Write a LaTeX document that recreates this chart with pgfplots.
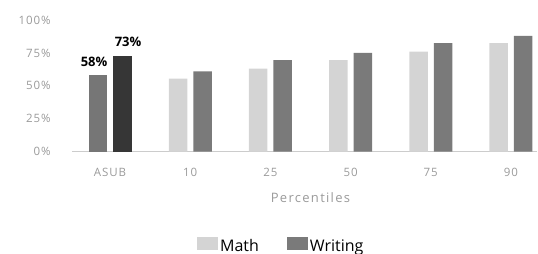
\documentclass[border=0pt]{standalone}
\usepackage{pgfplots}
\pgfplotsset{compat=1.18}
\usepackage{fontspec}
\setmainfont{Open Sans}
\newfontfamily\tickfont[LetterSpace=8]{Open Sans}
\newfontfamily\labfont[LetterSpace=10]{Open Sans}
\definecolor{mathc}{HTML}{D4D4D4}
\definecolor{writc}{HTML}{7A7A7A}
\definecolor{asubm}{HTML}{767676}
\definecolor{asubw}{HTML}{363636}
\definecolor{tickc}{HTML}{9A9A9A}
\begin{document}
\begin{tikzpicture}
\useasboundingbox (-72pt,-102.3pt) rectangle (466pt,151.7pt);
\begin{axis}[
  at={(0,0)}, anchor=south west,
  scale only axis,
  width=465pt, height=131.7pt,
  xmin=-0.475, xmax=5.325,
  ymin=0, ymax=100,
  axis x line*=bottom,
  axis y line*=left,
  y axis line style={draw=none},
  x axis line style={draw=tickc!50, line width=0.6pt},
  ytick={0,25,50,75,100},
  yticklabels={0\%,25\%,50\%,75\%,100\%},
  xtick={0,1,2,3,4,5},
  xticklabels={ASUB,10,25,50,75,90},
  major tick length=0pt,
  tick style={draw=none},
  ticklabel style={font=\tickfont\fontsize{11.5}{13}\selectfont, text=tickc},
  yticklabel style={anchor=east, xshift=-18pt},
  xticklabel style={anchor=north, yshift=-13pt},
  xlabel={Percentiles},
  xlabel style={font=\labfont\fontsize{13}{15}\selectfont, text=tickc, at={(axis description cs:0.5,0)}, anchor=center, xshift=6pt, yshift=-46pt},
  clip=false,
  legend style={at={(0.45,-0.715)}, anchor=center, draw=none, legend columns=2,
    font=\fontsize{16}{18}\selectfont, inner sep=0pt,
    /tikz/every even column/.append style={column sep=26pt}},
  legend image code/.code={\fill[#1] (-2pt,-4pt) rectangle (19pt,9pt);},
]
% ASUB bars
\addplot[ybar, bar width=18.5pt, bar shift=-12.25pt, fill=asubm, draw=none,
  nodes near coords={\textbf{58\%}}, every node near coord/.append style={font=\fontsize{13}{15}\selectfont, text=black, xshift=-16pt, yshift=5pt}, forget plot]
  coordinates {(0,58)};
\addplot[ybar, bar width=18.5pt, bar shift=12.25pt, fill=asubw, draw=none,
  nodes near coords={\textbf{73\%}}, every node near coord/.append style={font=\fontsize{13}{15}\selectfont, text=black, xshift=18pt, yshift=5pt}, forget plot]
  coordinates {(0,73)};
% Percentile bars
\addplot[ybar, bar width=18.5pt, bar shift=-12.25pt, fill=mathc, draw=none]
  coordinates {(1,55.5) (2,63) (3,69.5) (4,76) (5,82.5)};
\addplot[ybar, bar width=18.5pt, bar shift=12.25pt, fill=writc, draw=none]
  coordinates {(1,61) (2,69.5) (3,75) (4,82.5) (5,88)};
\legend{Math,Writing}
\end{axis}
\end{tikzpicture}
\end{document}
